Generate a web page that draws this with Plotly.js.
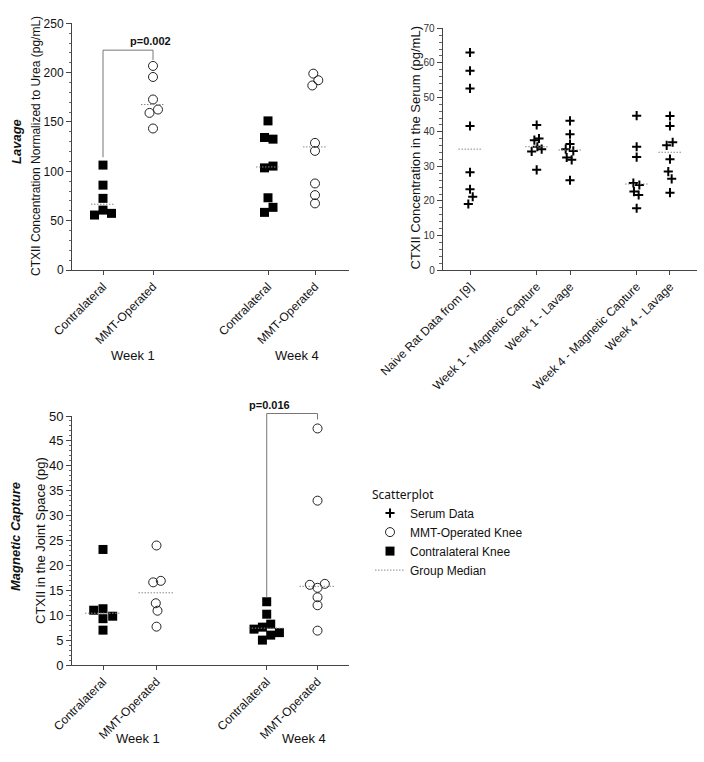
<!DOCTYPE html>
<html><head><meta charset="utf-8">
<script src="https://cdn.plot.ly/plotly-3.0.1.min.js"></script>
<style>html,body{margin:0;padding:0;background:#fff}</style>
</head><body>
<div id="chart" style="width:704px;height:762px"></div>
<script>
// ---------- DATA ----------
const kneeTicks = ['Contralateral', 'MMT-Operated', 'Contralateral', 'MMT-Operated'];
const weekLabels = ['Week 1', 'Week 4'];

// Lavage: CTXII normalized to urea (pg/mL)
const lavContraW1 = [106.3, 86.0, 72.6, 60.7, 55.7, 57.4];
const lavMmtW1    = [206.8, 195.6, 172.8, 162.6, 159.2, 143.4];
const lavContraW4 = [151.1, 134.3, 132.6, 103.5, 105.3, 73.2, 58.4, 63.5];
const lavMmtW4    = [199.0, 192.3, 187.0, 128.8, 120.7, 87.7, 75.9, 67.5];
const lavP = 'p=0.002';

// Magnetic capture: CTXII in joint space (pg)
const mcContraW1 = [23.2, 11.0, 11.3, 9.3, 9.8, 7.0];
const mcMmtW1    = [24.0, 16.6, 16.9, 12.4, 10.9, 7.7];
const mcContraW4 = [12.7, 10.2, 8.2, 7.6, 7.2, 6.0, 6.5, 5.0];
const mcMmtW4    = [47.5, 33.0, 16.1, 16.3, 15.5, 13.6, 12.0, 6.9];
const mcP = 'p=0.016';

// Serum CTXII (pg/mL)
const serumCategories = ['Naive Rat Data from [9]', 'Week 1 - Magnetic Capture', 'Week 1 - Lavage',
                         'Week 4 - Magnetic Capture', 'Week 4 - Lavage'];
const serumNaive = [63.0, 57.7, 52.6, 41.7, 28.3, 23.4, 21.2, 19.1];
const serumW1MC  = [42.0, 38.1, 37.6, 35.7, 35.0, 34.3, 29.0];
const serumW1Lav = [43.2, 39.3, 36.5, 35.0, 34.5, 32.6, 31.9, 26.0];
const serumW4MC  = [44.7, 35.7, 32.7, 25.2, 24.6, 22.7, 21.7, 17.9];
const serumW4Lav = [44.6, 41.7, 36.1, 37.0, 32.1, 28.5, 26.4, 22.4];

// ---------- LAYOUT (positions / jitter in px) ----------
const lavPos = [1, 2, 4.3, 5.24], lavUnit = 50;
const mcPos = [1, 2, 4.06, 5.01], mcUnit = 53.5;
const serumPos = [1, 3, 4, 6, 7], serumUnit = 33.3;
const lavRange = [1 - 31 / lavUnit, 1 + 246 / lavUnit];
const mcRange = [1 - 31 / mcUnit, 1 + 246 / mcUnit];
const serumRange = [1 - 27.3 / serumUnit, 7 + 26.7 / serumUnit];

const lavJit = [[0,0,0,0,-8.5,8.5],[0,0,0,5,-3.5,0],[0,-3.5,5,-3.5,5,0,-3.5,5],[-1.7,3.3,-2.7,0,0,0,0,0]];
const mcJit = [[0,-9.3,0,0,9.7,0],[0,-3.3,4.3,-0.7,1,0],[0,0,4,-4.3,-12.7,4,12.7,-4.3],[0,0,-7.7,7.3,0,0,0,0]];
const serumJit = [[0,0,0,0,0,0,2.7,-1.7],[0,2.3,-2.3,0.7,5,-5,0],[0,0,0,-4.3,3.3,-3.3,1.7,0],
                  [0,0,0,-3.3,2.7,-2.7,2,0],[0,0,-3.3,2.7,0,-1.7,1.7,0]];

const FONT = 'Liberation Sans, Arial, sans-serif';
const styles = {
  square: {name: 'Contralateral Knee', rank: 3, marker: {symbol: 'square', size: 9, color: '#000'}},
  circle: {name: 'MMT-Operated Knee', rank: 2, marker: {symbol: 'circle-open', size: 9, color: '#222', line: {width: 1, color: '#222'}}},
  cross:  {name: 'Serum Data', rank: 1, marker: {symbol: 'cross-thin-open', size: 6.5, color: '#000', line: {width: 2, color: '#000'}}}
};
const shown = {};
function median(a) {
  const s = a.slice().sort((p, q) => p - q), n = s.length;
  return n % 2 ? s[(n - 1) / 2] : (s[n / 2 - 1] + s[n / 2]) / 2;
}
const traces = [];
function addGroup(vals, pos, jit, unit, kind, ax, halfPx) {
  const st = styles[kind];
  const first = !shown[kind]; shown[kind] = true;
  traces.push({
    type: 'scatter', mode: 'markers', xaxis: 'x' + ax, yaxis: 'y' + ax,
    x: vals.map((v, i) => pos + jit[i] / unit), y: vals,
    marker: st.marker, name: st.name, legendgroup: kind, legendrank: st.rank,
    showlegend: first, hoverinfo: 'y', cliponaxis: false
  });
  const m = median(vals);
  const firstMed = !shown.median; shown.median = true;
  traces.push({
    type: 'scatter', mode: 'lines', xaxis: 'x' + ax, yaxis: 'y' + ax,
    x: [pos - halfPx / unit, pos + halfPx / unit], y: [m, m],
    line: {color: '#8a8a8a', width: 1, dash: '1.5px,1.5px'},
    name: 'Group Median', legendgroup: 'median', legendrank: 4,
    showlegend: firstMed, hoverinfo: 'skip'
  });
}
[serumNaive, serumW1MC, serumW1Lav, serumW4MC, serumW4Lav].forEach((g, i) =>
  addGroup(g, serumPos[i], serumJit[i], serumUnit, 'cross', '2', 11.5));
[lavContraW1, lavMmtW1, lavContraW4, lavMmtW4].forEach((g, i) =>
  addGroup(g, lavPos[i], lavJit[i], lavUnit, i % 2 ? 'circle' : 'square', '', 12));
[mcContraW1, mcMmtW1, mcContraW4, mcMmtW4].forEach((g, i) =>
  addGroup(g, mcPos[i], mcJit[i], mcUnit, i % 2 ? 'circle' : 'square', '3', 18));

// significance brackets (drawn in axis-domain coordinates so they can overhang the plot top)
const shapes = [], annotations = [];
function bracket(a, b, posA, posB, xr, yMax, ax, gapA, gapB, topGap, label) {
  const ma = Math.max(...a), mb = Math.max(...b);
  const top = Math.max(ma, mb) + topGap;
  const fx = p => (p - xr[0]) / (xr[1] - xr[0]);
  const fy = v => v / yMax;
  const xref = 'x' + ax + ' domain', yref = 'y' + ax + ' domain';
  const ln = {color: '#777', width: 1};
  shapes.push({type: 'line', xref, yref, x0: fx(posA), x1: fx(posA), y0: fy(ma + gapA), y1: fy(top), line: ln});
  shapes.push({type: 'line', xref, yref, x0: fx(posA), x1: fx(posB), y0: fy(top), y1: fy(top), line: ln});
  shapes.push({type: 'line', xref, yref, x0: fx(posB), x1: fx(posB), y0: fy(top), y1: fy(mb + gapB), line: ln});
  annotations.push({xref, yref, x: fx((posA + posB) / 2), y: fy(top), yanchor: 'bottom', yshift: 1,
    text: '<b>' + label + '</b>', showarrow: false, font: {family: FONT, size: 11, color: '#111'}});
}
bracket(lavContraW1, lavMmtW1, lavPos[0], lavPos[1], lavRange, 250, '', 8, 6, 16, lavP);
bracket(mcContraW4, mcMmtW4, mcPos[2], mcPos[3], mcRange, 50, '3', 1, 1.8, 3, mcP);

const H = 762, W = 704;
const px2x = p => p / W, px2y = p => 1 - p / H;

function yAx(domain, range, dtick, minor, fs, color) {
  return {domain: domain, range: range, dtick: dtick, tick0: 0, showgrid: false, zeroline: false,
    showline: true, linecolor: '#444', linewidth: 1, ticks: 'outside', ticklen: 5, tickcolor: '#444',
    tickfont: {family: FONT, size: fs, color: color},
    minor: {ticks: 'outside', dtick: minor, ticklen: 2.5, tickcolor: '#666', showgrid: false}, fixedrange: true};
}
function xAx(domain, range, vals, text, fs, anchor) {
  return {domain: domain, range: range, tickvals: vals, ticktext: text, tickangle: -45,
    showgrid: false, zeroline: false, showline: true, linecolor: '#444', linewidth: 1,
    ticks: 'outside', ticklen: 4, tickcolor: '#444', anchor: anchor,
    tickfont: {family: FONT, size: fs, color: '#111'}, fixedrange: true};
}
function vTitle(xpx, ypx, text, size) {
  return {xref: 'paper', yref: 'paper', x: px2x(xpx), y: px2y(ypx), text: text, textangle: -90,
    showarrow: false, xanchor: 'center', yanchor: 'middle', font: {family: FONT, size: size, color: '#111'}};
}
function weekLabel(ax, x, ypx, shift, text) {
  return {xref: ax, yref: 'paper', x: x, y: px2y(ypx), xshift: shift, text: text,
    showarrow: false, font: {family: FONT, size: 13, color: '#111'}};
}
annotations.push(
  vTitle(16, 142, '<b><i>Lavage</i></b>', 13),
  vTitle(36, 146, 'CTXII Concentration Normalized to Urea (pg/mL)', 12),
  vTitle(415, 147.5, 'CTXII Concentration in the Serum (pg/mL)', 13),
  vTitle(15, 537, '<b><i>Magnetic Capture</i></b>', 13),
  vTitle(40, 541, 'CTXII in the Joint Space (pg)', 13),
  weekLabel('x', (lavPos[0] + lavPos[1]) / 2, 355, 5, weekLabels[0]),
  weekLabel('x', (lavPos[2] + lavPos[3]) / 2, 355, 5, weekLabels[1]),
  weekLabel('x3', (mcPos[0] + mcPos[1]) / 2, 748, 8, weekLabels[0]),
  weekLabel('x3', (mcPos[2] + mcPos[3]) / 2, 748, 12, weekLabels[1])
);

const layout = {
  width: W, height: H, margin: {l: 0, r: 0, t: 0, b: 0},
  paper_bgcolor: '#fff', plot_bgcolor: 'rgba(0,0,0,0)',
  font: {family: FONT, color: '#111'},
  xaxis: xAx([px2x(72), px2x(349)], lavRange, lavPos, kneeTicks, 12, 'y'),
  yaxis: yAx([px2y(270), px2y(23.3)], [0, 250], 50, 10, 12, '#111'),
  xaxis2: xAx([px2x(442.7), px2x(696.7)], serumRange, serumPos, serumCategories, 12, 'y2'),
  yaxis2: Object.assign(yAx([px2y(270), px2y(28.3)], [0, 70], 10, 2, 10, '#333'), {anchor: 'x2'}),
  xaxis3: xAx([px2x(72), px2x(349)], mcRange, mcPos, kneeTicks, 12, 'y3'),
  yaxis3: Object.assign(yAx([px2y(665), px2y(416)], [0, 50], 5, 1, 13, '#111'), {anchor: 'x3'}),
  showlegend: true,
  legend: {x: px2x(370), y: px2y(483), xanchor: 'left', yanchor: 'top', bgcolor: 'rgba(0,0,0,0)',
    itemwidth: 30, tracegroupgap: 0, font: {family: FONT, size: 12, color: '#111'},
    title: {text: 'Scatterplot', font: {family: 'Noto Sans, sans-serif', size: 12, color: '#111'}}},
  shapes: shapes,
  annotations: annotations
};
Plotly.newPlot('chart', traces, layout, {displayModeBar: false, staticPlot: true});
</script>
</body></html>
